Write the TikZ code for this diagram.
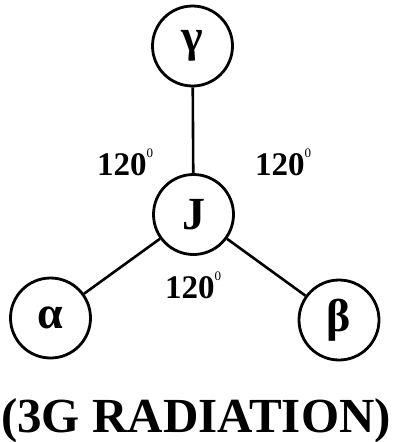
\documentclass[tikz,border=0pt]{standalone}
\usepackage{fontspec}
\setmainfont{Liberation Serif}
\newcommand{\degsup}{\raisebox{18pt}{\normalfont\fontsize{13}{13}\selectfont 0}}
\begin{document}
\begin{tikzpicture}[x=1pt,y=-1pt,
  ball/.style={draw=black,line width=2.8pt,circle,minimum size=80pt,inner sep=0pt,
    font=\fontsize{46}{46}\selectfont\bfseries},
  link/.style={draw=black,line width=2.6pt},
  ang/.style={font=\fontsize{33}{33}\selectfont\bfseries,inner sep=0pt},
  title/.style={font=\fontsize{49}{49}\selectfont\bfseries,inner sep=0pt}]
\useasboundingbox (0,0) rectangle (392,442);
\node[ball] (g) at (192.5,46) {γ};
\node[ball] (j) at (193.5,214.5) {J};
\node[ball] (a) at (50.5,318) {α};
\node[ball] (b) at (339,320) {β};
\draw[link] (g) -- (j);
\draw[link] (j) -- (a);
\draw[link] (j) -- (b);
\node[ang,anchor=base west] (l1) at (97,175) {120\degsup};
\node[ang,anchor=base west] (l2) at (255,175) {120\degsup};
\node[ang,anchor=base west] (l3) at (165,298) {120\degsup};
\node[title,anchor=base] (t) at (196,432) {(3G RADIATION)};
\end{tikzpicture}
\end{document}
